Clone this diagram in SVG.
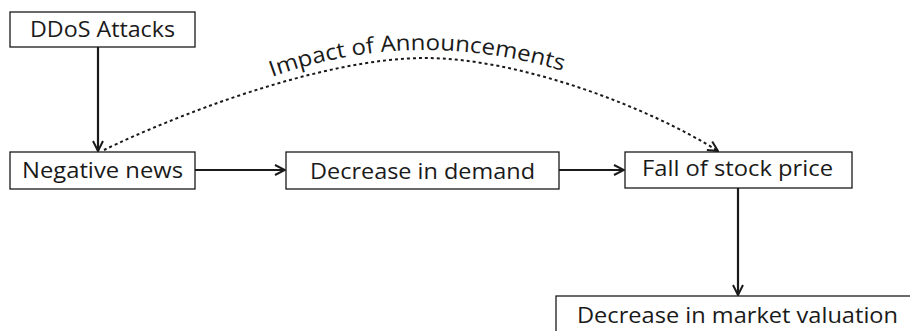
<svg xmlns="http://www.w3.org/2000/svg" width="910" height="331" viewBox="0 0 910 331">
  <defs>
    <style>
      .box { fill: #ffffff; stroke: #1a1a1a; stroke-width: 1.3; }
      .lbl { font-family: "Open Sans", "Liberation Sans", sans-serif; font-size: 22px; fill: #1a1a1a; }
      .conn { fill: none; stroke: #1a1a1a; stroke-width: 2.2; }
      .dot { fill: none; stroke: #1a1a1a; stroke-width: 2; stroke-dasharray: 3 3; }
    </style>
    <marker id="arr" viewBox="0 0 12 12" refX="11" refY="6" markerWidth="12" markerHeight="12" markerUnits="userSpaceOnUse" orient="auto">
      <path d="M1 1 L11 6 L1 11" fill="none" stroke="#1a1a1a" stroke-width="2"/>
    </marker>
    <path id="textArc" d="M 272 77 Q 425 22 588 79"/>
  </defs>
  <rect width="910" height="331" fill="#ffffff"/>

  <g id="connectors">
    <line class="conn" x1="98" y1="47" x2="98" y2="151" marker-end="url(#arr)"/>
    <line class="conn" x1="195" y1="170" x2="285" y2="170" marker-end="url(#arr)"/>
    <line class="conn" x1="559" y1="170" x2="624" y2="170" marker-end="url(#arr)"/>
    <line class="conn" x1="738" y1="188" x2="738" y2="295" marker-end="url(#arr)"/>
    <path class="dot" d="M 104 150 C 170 118, 320 58, 425 58 C 520 58, 650 108, 718 151" marker-end="url(#arr)"/>
    <text class="lbl"><textPath href="#textArc" textLength="296" lengthAdjust="spacingAndGlyphs">Impact of Announcements</textPath></text>
  </g>

  <g id="ddos">
    <rect class="box" x="10" y="12" width="185" height="35"/>
    <text class="lbl" x="30" y="37" textLength="145" lengthAdjust="spacingAndGlyphs">DDoS Attacks</text>
  </g>
  <g id="negative-news">
    <rect class="box" x="10" y="152" width="185" height="37"/>
    <text class="lbl" x="22" y="178" textLength="161" lengthAdjust="spacingAndGlyphs">Negative news</text>
  </g>
  <g id="decrease-demand">
    <rect class="box" x="286" y="152" width="273" height="37"/>
    <text class="lbl" x="310" y="179" textLength="225" lengthAdjust="spacingAndGlyphs">Decrease in demand</text>
  </g>
  <g id="fall-stock">
    <rect class="box" x="625" y="152" width="227" height="36"/>
    <text class="lbl" x="642" y="176" textLength="191" lengthAdjust="spacingAndGlyphs">Fall of stock price</text>
  </g>
  <g id="market-valuation">
    <rect class="box" x="556" y="296" width="370" height="45"/>
    <text class="lbl" x="577" y="323" textLength="321" lengthAdjust="spacingAndGlyphs">Decrease in market valuation</text>
  </g>
</svg>
